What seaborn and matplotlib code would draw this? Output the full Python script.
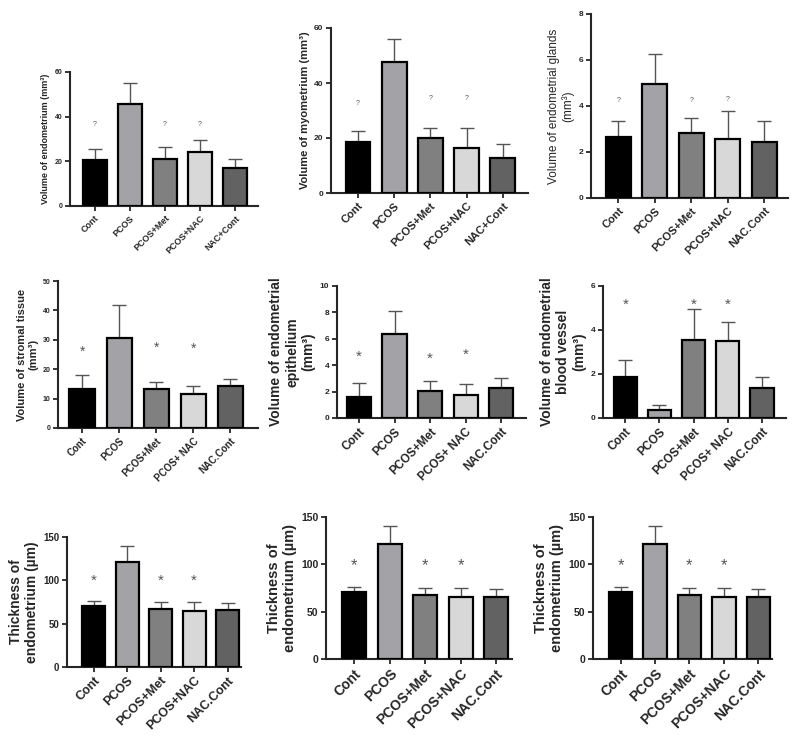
import matplotlib
matplotlib.use("Agg")
import matplotlib.pyplot as plt
import seaborn as sns
import pandas as pd

sns.set_style("ticks")
plt.rcParams["font.family"] = ["Liberation Sans", "DejaVu Sans"]

# group names (three spellings as in the figure)
groups_a = ["Cont", "PCOS", "PCOS+Met", "PCOS+NAC", "NAC+Cont"]
groups_b = ["Cont", "PCOS", "PCOS+Met", "PCOS+NAC", "NAC.Cont"]
groups_c = ["Cont", "PCOS", "PCOS+Met", "PCOS+ NAC", "NAC.Cont"]
bar_colors = ["#000000", "#a2a2a8", "#808080", "#d8d8d8", "#626262"]

# means and upper error (SD)
endometrium_vol = [20.5, 45.5, 21.0, 24.0, 17.2]
endometrium_err = [5.0, 9.5, 5.5, 5.5, 4.0]
myometrium_vol = [18.4, 47.6, 20.0, 16.2, 12.8]
myometrium_err = [4.0, 8.5, 3.5, 7.4, 5.2]
glands_vol = [2.66, 4.96, 2.82, 2.55, 2.43]
glands_err = [0.69, 1.32, 0.65, 1.25, 0.91]
stromal_vol = [13.4, 30.5, 13.1, 11.5, 14.4]
stromal_err = [4.6, 11.3, 2.7, 2.8, 2.1]
epithelium_vol = [1.62, 6.36, 2.02, 1.77, 2.25]
epithelium_err = [1.01, 1.74, 0.78, 0.83, 0.81]
vessel_vol = [1.88, 0.36, 3.55, 3.50, 1.38]
vessel_err = [0.77, 0.25, 1.40, 0.86, 0.48]
thickness = [70.3, 121.0, 67.5, 65.0, 66.0]
thickness_err = [6.2, 19.0, 7.5, 10.0, 8.0]

# significance marks: (group index, y)
marks_endo = [(0, 36.5), (2, 36.5), (3, 36.5)]
marks_myo = [(0, 32.4), (2, 34.2), (3, 34.2)]
marks_gland = [(0, 4.25), (2, 4.25), (3, 4.3)]
marks_strom = [(0, 26.0), (2, 27.2), (3, 26.8)]
marks_epi = [(0, 4.6), (2, 4.45), (3, 4.8)]
marks_vess = [(0, 5.15), (2, 5.15), (3, 5.15)]
marks_thick = [(0, 99), (2, 99), (3, 99)]

panels = [
    # box px (left, right, top, bottom), groups, vals, errs, marks, mark, ylabel, ymax, step,
    # fonts (tick label, ylabel, numbers, mark), bold ylabel, xlim
    dict(box=(70, 258, 72, 206), g=groups_a, v=endometrium_vol, e=endometrium_err, m=marks_endo, s="?",
         yl="Volume of endometrium (mm³)", ymax=60, step=20, fs=(6.5, 6.5, 5, 5), bold=True, xl=(-0.7, 4.65)),
    dict(box=(331, 528, 28, 193), g=groups_a, v=myometrium_vol, e=myometrium_err, m=marks_myo, s="?",
         yl="Volume of myometrium (mm³)", ymax=60, step=20, fs=(8, 8, 6, 5), bold=True, xl=(-0.75, 4.7)),
    dict(box=(591, 788, 14, 198), g=groups_b, v=glands_vol, e=glands_err, m=marks_gland, s="?",
         yl="Volume of endometrial glands\n(mm³)", ymax=8, step=2, fs=(8, 8.5, 6, 5), bold=False, xl=(-0.75, 4.65)),
    dict(box=(58, 258, 281, 428), g=groups_c, v=stromal_vol, e=stromal_err, m=marks_strom, s="*",
         yl="Volume of stromal tissue\n(mm³)", ymax=50, step=10, fs=(7, 8, 5, 10), bold=True, xl=(-0.65, 4.75)),
    dict(box=(337, 526, 286, 418), g=groups_c, v=epithelium_vol, e=epithelium_err, m=marks_epi, s="*",
         yl="Volume of endometrial\nepithelium\n(mm³)", ymax=10, step=2, fs=(8.5, 10, 6, 11), bold=True, xl=(-0.62, 4.7)),
    dict(box=(603, 786, 286, 418), g=groups_c, v=vessel_vol, e=vessel_err, m=marks_vess, s="*",
         yl="Volume of endometrial\nblood vessel\n(mm³)", ymax=6, step=2, fs=(8.5, 10, 6, 11), bold=True, xl=(-0.65, 4.7)),
    dict(box=(67, 241, 537, 667), g=groups_b, v=thickness, e=thickness_err, m=marks_thick, s="*",
         yl="Thickness of\nendometrium (µm)", ymax=150, step=50, fs=(9, 10, 7, 11), bold=True, xl=(-0.8, 4.4)),
    dict(box=(326, 512, 517, 659), g=groups_b, v=thickness, e=thickness_err, m=marks_thick, s="*",
         yl="Thickness of\nendometrium (µm)", ymax=150, step=50, fs=(10, 10.5, 7.5, 12), bold=True, xl=(-0.8, 4.45)),
    dict(box=(593, 772, 517, 659), g=groups_b, v=thickness, e=thickness_err, m=marks_thick, s="*",
         yl="Thickness of\nendometrium (µm)", ymax=150, step=50, fs=(10, 10.5, 7.5, 12), bold=True, xl=(-0.8, 4.4)),
]

W, H = 800, 745
fig = plt.figure(figsize=(W / 100, H / 100), dpi=100)

for p in panels:
    l, r, t, b = p["box"]
    ax = fig.add_axes([l / W, 1 - b / H, (r - l) / W, (b - t) / H])
    df = pd.DataFrame({"group": p["g"], "value": p["v"]})
    sns.barplot(data=df, x="group", y="value", hue="group", palette=bar_colors, legend=False,
                errorbar=None, width=0.68, edgecolor="black", linewidth=1.6, ax=ax, zorder=3)
    ax.errorbar(range(len(p["v"])), p["v"], yerr=[[0] * len(p["e"]), p["e"]], fmt="none",
                ecolor="#555555", elinewidth=1.0, capsize=5, capthick=1.0, zorder=2)
    fs_tick, fs_lab, fs_num, fs_mark = p["fs"]
    for i, y in p["m"]:
        ax.text(i, y, p["s"], ha="center", va="center", fontsize=fs_mark, color="#555555")
    ax.set_ylim(0, p["ymax"])
    ax.set_xlim(*p["xl"])
    ax.set_yticks(range(0, p["ymax"] + 1, p["step"]))
    ax.set_xlabel("")
    ax.set_ylabel(p["yl"], fontsize=fs_lab, fontweight="bold" if p["bold"] else "normal", labelpad=3)
    ax.set_xticks(range(len(p["g"])))
    ax.set_xticklabels(p["g"], rotation=45, ha="right", rotation_mode="anchor",
                       fontsize=fs_tick, fontweight="bold")
    for lab in ax.get_yticklabels():
        lab.set_fontsize(fs_num)
        lab.set_fontweight("bold")
    ax.tick_params(axis="both", width=1.3, length=3.5, pad=2)
    for s in ["left", "bottom"]:
        ax.spines[s].set_linewidth(1.5)
    sns.despine(ax=ax)

fig.savefig("out.png", dpi=100)
